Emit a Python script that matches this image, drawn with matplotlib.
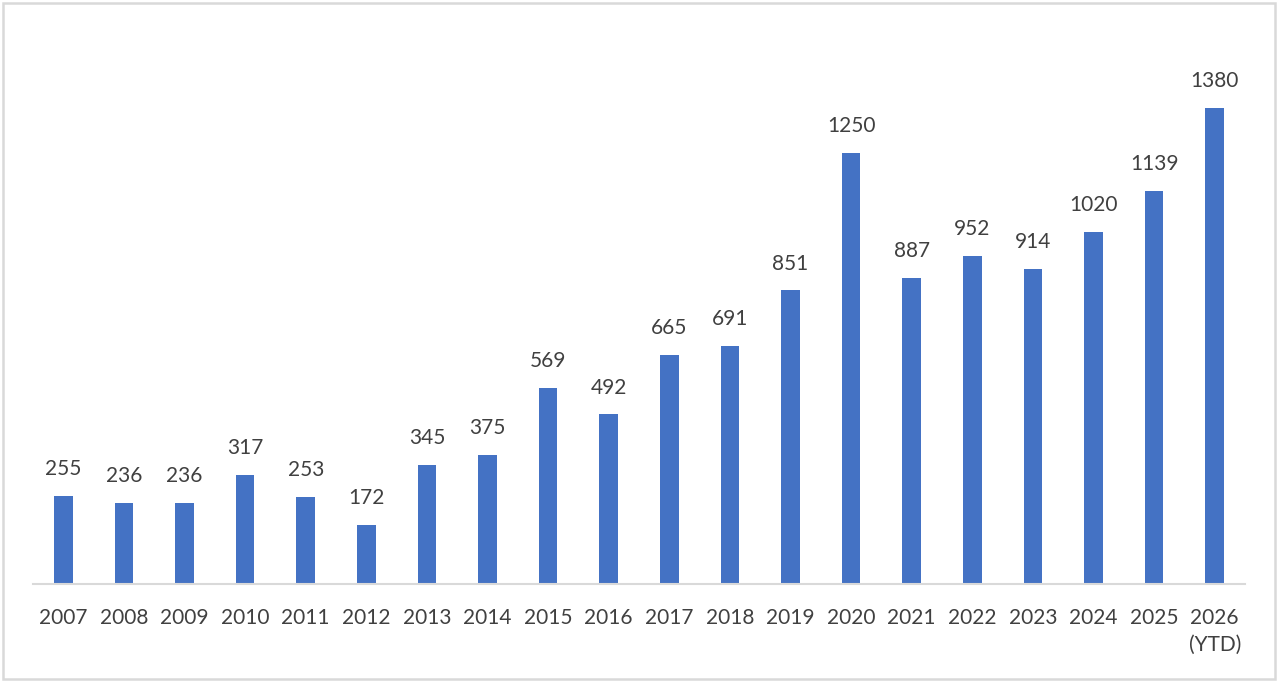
import matplotlib.pyplot as plt
from matplotlib.patches import Rectangle

plt.rcParams['font.family'] = ['Lato', 'DejaVu Sans']

years = ['2007', '2008', '2009', '2010', '2011', '2012', '2013', '2014', '2015', '2016',
         '2017', '2018', '2019', '2020', '2021', '2022', '2023', '2024', '2025', '2026\n(YTD)']
counts = [255, 236, 236, 317, 253, 172, 345, 375, 569, 492,
          665, 691, 851, 1250, 887, 952, 914, 1020, 1139, 1380]

bar_color = '#4472C4'
text_color = '#404040'

fig = plt.figure(figsize=(12.8, 6.82), dpi=100)
ax = fig.add_axes([33 / 1280, 98 / 682, 1212 / 1280, 552 / 682])

x = range(len(years))
bars = ax.bar(x, counts, width=0.31, color=bar_color, zorder=2)

for b, v in zip(bars, counts):
    ax.annotate(str(v), (b.get_x() + b.get_width() / 2, v), xytext=(0, 12),
                textcoords='offset points', ha='center', va='bottom',
                fontsize=15, color=text_color)

ax.set_xlim(-0.5, len(years) - 0.5)
ax.set_ylim(0, 1600)
ax.set_xticks(list(x))
ax.set_xticklabels(years, fontsize=15, color=text_color, linespacing=1.45)
ax.tick_params(axis='x', length=0, pad=17)
ax.set_yticks([])
for s in ['top', 'right', 'left']:
    ax.spines[s].set_visible(False)
ax.spines['bottom'].set_color('#d9d9d9')
ax.spines['bottom'].set_linewidth(1.5)

# light border round the whole chart
fig.patches.append(Rectangle((3 / 1280, 3 / 682), 1272 / 1280, 676 / 682,
                             transform=fig.transFigure, fill=False,
                             edgecolor='#d9d9d9', linewidth=1.8))

fig.savefig('out.png', dpi=100)
